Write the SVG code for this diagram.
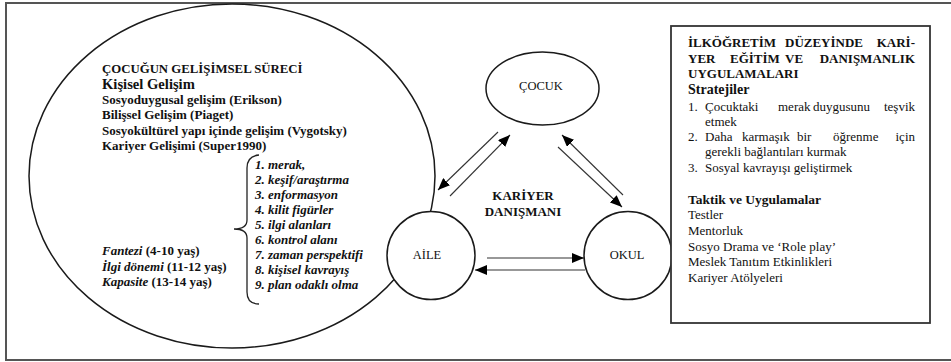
<svg xmlns="http://www.w3.org/2000/svg" width="951" height="362" viewBox="0 0 951 362">
<defs>
<marker id="ah" viewBox="0 0 12 10" refX="12" refY="5" markerWidth="12" markerHeight="10" markerUnits="userSpaceOnUse" orient="auto">
<path d="M0,0 L12,5 L0,10 z" fill="#000"/>
</marker>
</defs>
<rect x="0" y="0" width="951" height="362" fill="#fff"/>
<g id="frame">
<rect x="6" y="3" width="960" height="357" fill="none" stroke="#555" stroke-width="2"/>
</g>
<g id="node-gelisim">
<ellipse cx="232" cy="176" rx="203" ry="172" fill="#fff" stroke="#1a1a1a" stroke-width="1.5"/>
<g font-family="Liberation Serif" font-weight="bold" font-size="13" fill="#111">
<text x="102" y="73" font-size="12.8">ÇOCUĞUN GELİŞİMSEL SÜRECİ</text>
<text x="102" y="89" font-size="14.6">Kişisel Gelişim</text>
<text x="102" y="104">Sosyoduygusal gelişim (Erikson)</text>
<text x="102" y="119">Bilişsel Gelişim (Piaget)</text>
<text x="102" y="135">Sosyokültürel yapı içinde gelişim (Vygotsky)</text>
<text x="102" y="150">Kariyer Gelişimi (Super1990)</text>
<text x="102" y="255"><tspan font-style="italic">Fantezi</tspan> (4-10 yaş)</text>
<text x="102" y="271"><tspan font-style="italic">İlgi dönemi</tspan> (11-12 yaş)</text>
<text x="102" y="286"><tspan font-style="italic">Kapasite</tspan> (13-14 yaş)</text>
</g>
<path fill="none" stroke="#222" stroke-width="1.3" d="M259,155 Q247,156 247,168 L247,220 Q247,229 234,229 Q247,229 247,238 L247,292 Q247,304 259,304"/>
<g font-family="Liberation Serif" font-weight="bold" font-style="italic" font-size="13" fill="#111">
<text x="255" y="169">1. merak,</text>
<text x="255" y="184">2. keşif/araştırma</text>
<text x="255" y="199">3. enformasyon</text>
<text x="255" y="214">4. kilit figürler</text>
<text x="255" y="229">5. ilgi alanları</text>
<text x="255" y="244">6. kontrol alanı</text>
<text x="255" y="259">7. zaman perspektifi</text>
<text x="255" y="274">8. kişisel kavrayış</text>
<text x="255" y="289">9. plan odaklı olma</text>
</g>
</g>
<g id="connectors" stroke="#333" stroke-width="1.1" fill="none">
<line x1="498" y1="132" x2="438" y2="190" marker-end="url(#ah)"/>
<line x1="450" y1="196" x2="510" y2="135" marker-end="url(#ah)"/>
<line x1="558" y1="147" x2="622" y2="207" marker-end="url(#ah)"/>
<line x1="623" y1="195" x2="562" y2="135" marker-end="url(#ah)"/>
<line x1="487" y1="258" x2="584" y2="258" marker-end="url(#ah)"/>
<line x1="585" y1="270" x2="475" y2="270" marker-end="url(#ah)"/>
</g>
<g id="node-cocuk">
<ellipse cx="542.5" cy="88.5" rx="56.5" ry="36.5" fill="#fff" stroke="#1a1a1a" stroke-width="1.5"/>
<text font-family="Liberation Serif" font-size="12.5" text-anchor="middle" fill="#111" x="541" y="90">ÇOCUK</text>
</g>
<g id="node-aile">
<circle cx="431" cy="255.5" r="44" fill="#fff" stroke="#1a1a1a" stroke-width="1.5"/>
<text font-family="Liberation Serif" font-size="12.5" text-anchor="middle" fill="#111" x="427" y="259">AİLE</text>
</g>
<g id="node-okul">
<circle cx="628" cy="255.5" r="44" fill="#fff" stroke="#1a1a1a" stroke-width="1.5"/>
<text font-family="Liberation Serif" font-size="12.5" text-anchor="middle" fill="#111" x="627" y="259">OKUL</text>
</g>
<g id="label-danisman" font-family="Liberation Serif" font-weight="bold" font-size="13" text-anchor="middle" fill="#111">
<text x="523" y="200">KARİYER</text>
<text x="523" y="216">DANIŞMANI</text>
</g>
<g id="node-uygulamalar">
<rect x="671" y="26" width="259" height="297" fill="#fff" stroke="#333" stroke-width="1.8"/>
<g font-family="Liberation Serif" font-weight="bold" font-size="13" fill="#111">
<text x="688" y="47">İLKÖĞRETİM</text>
<text x="785" y="47">DÜZEYİNDE</text>
<text x="915" y="47" text-anchor="end">KARİ-</text>
<text x="688" y="63">YER</text>
<text x="730" y="63">EĞİTİM</text>
<text x="785" y="63">VE</text>
<text x="915" y="63" text-anchor="end">DANIŞMANLIK</text>
<text x="688" y="78">UYGULAMALARI</text>
<text x="688" y="94" font-size="14">Stratejiler</text>
<text x="688" y="204" font-size="13.5">Taktik ve Uygulamalar</text>
</g>
<g font-family="Liberation Serif" font-size="13" fill="#111">
<text x="688" y="111">1.</text>
<text x="705" y="111">Çocuktaki</text>
<text x="778" y="111">merak</text>
<text x="813" y="111">duygusunu</text>
<text x="915" y="111" text-anchor="end">teşvik</text>
<text x="705" y="126">etmek</text>
<text x="688" y="141">2.</text>
<text x="705" y="141">Daha</text>
<text x="742" y="141">karmaşık</text>
<text x="797" y="141">bir</text>
<text x="833" y="141">öğrenme</text>
<text x="915" y="141" text-anchor="end">için</text>
<text x="705" y="156">gerekli bağlantıları kurmak</text>
<text x="688" y="172">3.</text>
<text x="705" y="172">Sosyal kavrayışı geliştirmek</text>
<text x="688" y="219">Testler</text>
<text x="688" y="235">Mentorluk</text>
<text x="688" y="251">Sosyo Drama ve ‘Role play’</text>
<text x="688" y="266">Meslek Tanıtım Etkinlikleri</text>
<text x="688" y="282">Kariyer Atölyeleri</text>
</g>
</g>
</svg>
